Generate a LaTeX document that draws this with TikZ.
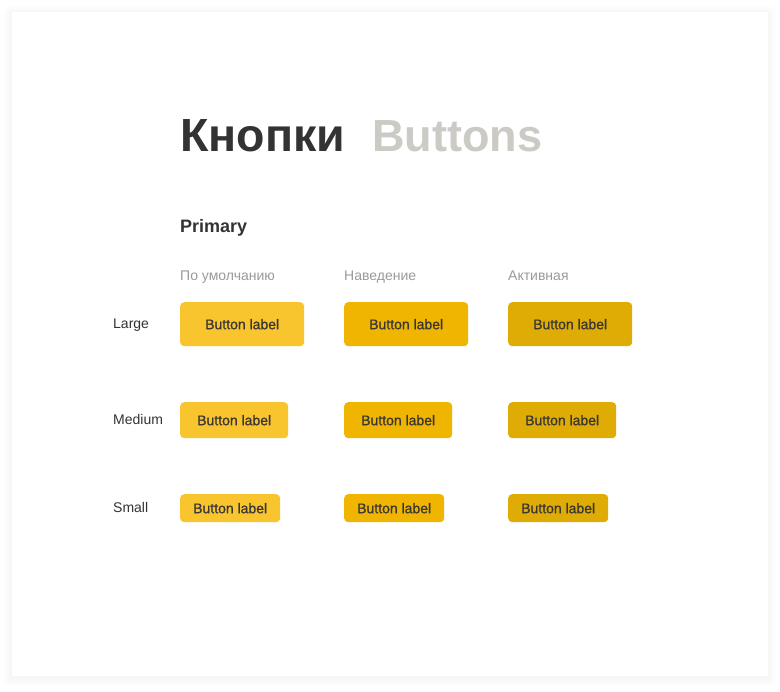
\documentclass[tikz,border=0pt]{standalone}
\usepackage{fontspec}
\setmainfont{Liberation Sans}
\newfontfamily\medfont[FakeBold=1.0]{Liberation Sans}
\definecolor{cdef}{HTML}{F9C52F}
\definecolor{chov}{HTML}{F0B500}
\definecolor{cact}{HTML}{DFAC06}
\definecolor{ink}{HTML}{333333}
\definecolor{btnink}{HTML}{3A3632}
\definecolor{mute}{HTML}{9A9A9A}
\definecolor{ghost}{HTML}{CCCAC4}
\tikzset{
  txt/.style={inner sep=0pt, anchor=base west, text=ink, font=\fontsize{14}{16}\selectfont},
  colhead/.style={txt, text=mute},
  btn/.style={anchor=north west, rounded corners=4pt, inner sep=0pt, text=btnink,
              font=\medfont\fontsize{14}{16}\selectfont},
  large/.style={btn, minimum width=124pt, minimum height=44pt},
  medium/.style={btn, minimum width=108pt, minimum height=36pt},
  small/.style={btn, minimum width=100pt, minimum height=28pt},
}
\begin{document}
\begin{tikzpicture}[x=1pt,y=-1pt]
\useasboundingbox (0,0) rectangle (780,692);
\fill[white] (0,0) rectangle (780,692);
\foreach \d in {1,...,9}{
  \fill[black, opacity=0.0025, rounded corners=\d pt] (12-\d,14-\d) rectangle (768+\d,678+\d);
}
\node[fill=white, minimum width=756pt, minimum height=664pt, anchor=north west, inner sep=0pt] (card) at (12,12) {};

\node[txt, font=\fontsize{46.5}{50}\selectfont\bfseries] (title) at (180,152) {Кнопки};
\node[txt, text=ghost, font=\fontsize{45}{50}\selectfont\bfseries] (titleen) at (372,152) {Buttons};

\node[txt, font=\fontsize{18}{20}\selectfont\bfseries] (primary) at (180,233) {Primary};

\node[colhead] (h1) at (180,281) {По умолчанию};
\node[colhead] (h2) at (344,281) {Наведение};
\node[colhead] (h3) at (508,281) {Активная};

\node[txt] (rl) at (113,329) {Large};
\node[txt] (rm) at (113,425) {Medium};
\node[txt] (rs) at (113,513) {Small};

\node[large, fill=cdef] (l1) at (180,302) {Button label};
\node[large, fill=chov] (l2) at (344,302) {Button label};
\node[large, fill=cact] (l3) at (508,302) {Button label};

\node[medium, fill=cdef] (m1) at (180,402) {Button label};
\node[medium, fill=chov] (m2) at (344,402) {Button label};
\node[medium, fill=cact] (m3) at (508,402) {Button label};

\node[small, fill=cdef] (s1) at (180,494) {Button label};
\node[small, fill=chov] (s2) at (344,494) {Button label};
\node[small, fill=cact] (s3) at (508,494) {Button label};
\end{tikzpicture}
\end{document}
